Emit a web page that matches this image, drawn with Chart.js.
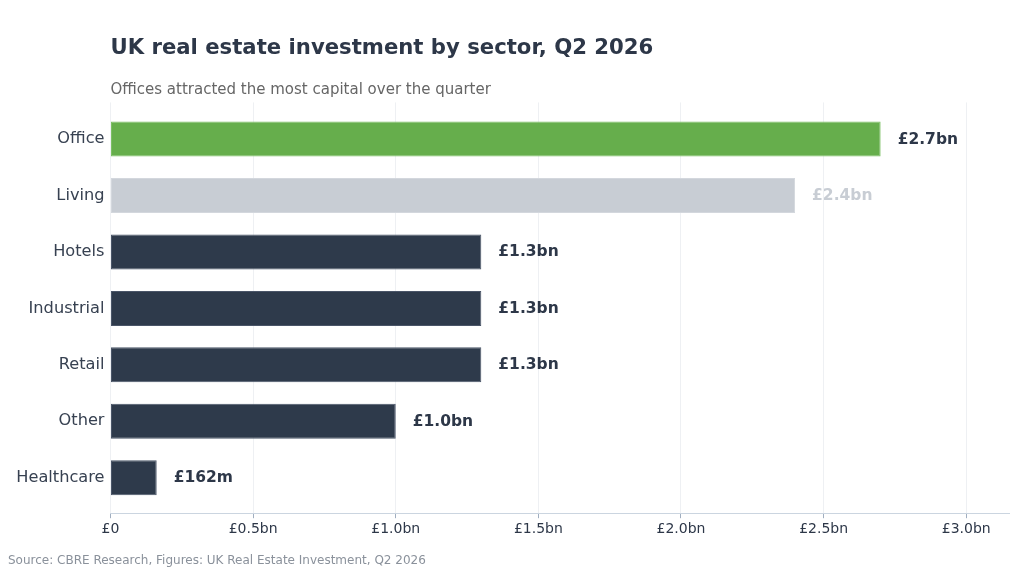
<!DOCTYPE html>
<html>
<head>
<meta charset="utf-8">
<script src="https://cdn.jsdelivr.net/npm/chart.js@4"></script>
<style>
  html, body { margin: 0; padding: 0; background: #fff; }
  #wrap { position: relative; width: 1024px; height: 573px; }
  #source {
    position: absolute; left: 8px; top: 553px;
    font: 12px "DejaVu Sans", sans-serif; color: #8a919b;
  }
</style>
</head>
<body>
<div id="wrap">
  <canvas id="Chart" width="1024" height="573"></canvas>
  <div id="source">Source: CBRE Research, Figures: UK Real Estate Investment, Q2 2026</div>
</div>
<script>
const SECTORS = ['Office', 'Living', 'Hotels', 'Industrial', 'Retail', 'Other', 'Healthcare'];
const INVESTMENT_BN = [2.7, 2.4, 1.3, 1.3, 1.3, 1.0, 0.162];
const VALUE_LABELS = ['£2.7bn', '£2.4bn', '£1.3bn', '£1.3bn', '£1.3bn', '£1.0bn', '£162m'];

const DARK = '#2e3a4b';
const GREEN = '#66ae4c';
const GREY = '#c8cdd4';

const barColor = (i) => i === 0 ? GREEN : (i === 1 ? GREY : DARK);
const borderColor = (i) => i === 0 ? '#7bbf63' : (i === 1 ? '#d3d7dd' : '#4a5568');

const TickLabel = (value) => {
    if (value === 0) return '£0';
    return '£' + value.toFixed(1) + 'bn';
}

const valueLabels = {
    id: 'valueLabels',
    afterDatasetsDraw(chart) {
        const ctx = chart.ctx;
        const meta = chart.getDatasetMeta(0);
        ctx.save();
        ctx.font = 'bold 15.5px "DejaVu Sans", sans-serif';
        ctx.textAlign = 'left';
        ctx.textBaseline = 'middle';
        meta.data.forEach((bar, i) => {
            ctx.fillStyle = i === 1 ? GREY : '#2d3748';
            ctx.fillText(VALUE_LABELS[i], bar.x + 17, bar.y + 0.5);
        });
        ctx.restore();
    }
};

const data = {
    labels: SECTORS,
    datasets: [{
        label: 'Investment (£bn)',
        data: INVESTMENT_BN,
        backgroundColor: SECTORS.map((s, i) => barColor(i)),
        borderColor: SECTORS.map((s, i) => borderColor(i)),
        borderWidth: 1,
        borderSkipped: false,
        barPercentage: 0.62,
        categoryPercentage: 1
    }]
};

const config = {
    type: 'bar',
    data,
    options: {
        indexAxis: 'y',
        responsive: false,
        animation: false,
        layout: {
            padding: { left: 0, right: 15, top: 0, bottom: 32 }
        },
        scales: {
            x: {
                min: 0,
                max: 3.15,
                grid: { color: '#eef0f3', tickColor: '#a0aec0', tickLength: 5 },
                border: { color: '#cbd5e0' },
                ticks: {
                    stepSize: 0.5,
                    includeBounds: false,
                    padding: 3,
                    color: '#2d3748',
                    font: { family: '"DejaVu Sans", sans-serif', size: 14 },
                    callback: TickLabel
                }
            },
            y: {
                grid: { display: false, drawTicks: false },
                border: { display: false },
                ticks: {
                    padding: 6,
                    color: '#374151',
                    font: { family: '"DejaVu Sans", sans-serif', size: 16.2 }
                },
                afterFit: (scale) => { scale.width = 110.5; },
                // tighten the category bands a little, leaving a margin above and below
                afterBuildTicks: (scale) => {
                    scale._startValue = -0.65;
                    scale._valueRange = 7.28;
                }
            }
        },
        plugins: {
            legend: { display: false },
            tooltip: { enabled: false },
            title: {
                display: true,
                text: 'UK real estate investment by sector, Q2 2026',
                align: 'start',
                fullSize: false,
                color: '#2d3748',
                font: { family: '"DejaVu Sans", sans-serif', size: 21.2, weight: 'bold', lineHeight: 1.2 },
                padding: { top: 35.5, bottom: 16.5 }
            },
            subtitle: {
                display: true,
                text: 'Offices attracted the most capital over the quarter',
                align: 'start',
                fullSize: false,
                color: '#666666',
                font: { family: '"DejaVu Sans", sans-serif', size: 15, lineHeight: 1.2 },
                padding: { top: 4, bottom: 3 }
            }
        }
    },
    plugins: [valueLabels]
};

const myChart = new Chart(document.getElementById('Chart'), config);
</script>
</body>
</html>
